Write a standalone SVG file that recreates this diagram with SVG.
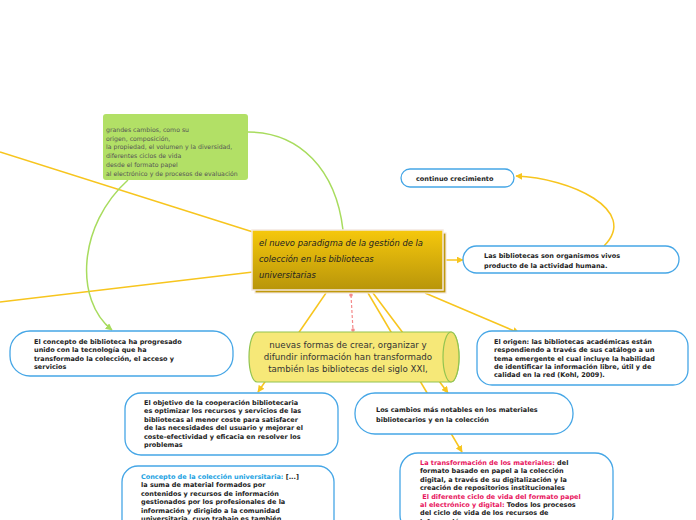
<svg xmlns="http://www.w3.org/2000/svg" width="696" height="520" viewBox="0 0 696 520">
<defs>
<linearGradient id="gold" x1="0" y1="0" x2="0" y2="1">
<stop offset="0" stop-color="#f6c80c"/>
<stop offset="1" stop-color="#b8950a"/>
</linearGradient>
<marker id="ay" viewBox="0 0 10 10" refX="9" refY="5" markerWidth="7" markerHeight="7" orient="auto" markerUnits="userSpaceOnUse">
<path d="M0,0 L10,5 L0,10 Z" fill="#f7c51e"/>
</marker>
<marker id="ag" viewBox="0 0 10 10" refX="9" refY="5" markerWidth="7" markerHeight="7" orient="auto" markerUnits="userSpaceOnUse">
<path d="M0,0 L10,5 L0,10 Z" fill="#a8dc5e"/>
</marker>
<style>
.y{fill:none;stroke:#f7c51e;stroke-width:1.5}
.g{fill:none;stroke:#a8dc5e;stroke-width:1.5}
.bn{fill:#fff;stroke:#45a6e6;stroke-width:1.3}
.bt{font-family:"DejaVu Sans",Verdana,sans-serif;font-weight:bold;font-size:6.5px;fill:#222}
.pk{fill:#e8155e}
.bl{fill:#22a2e2}
.gt{font-family:"DejaVu Sans",Verdana,sans-serif;font-size:6.2px;fill:#555}
.ct{font-family:"DejaVu Sans",sans-serif;font-style:italic;font-size:8.4px;fill:#222}
.cy{font-family:"DejaVu Sans",sans-serif;font-size:8.7px;fill:#333}
</style>
</defs>
<g id="connectors">
<path class="y" d="M0,152 L253,232"/>
<path class="y" d="M0,302 L253,272"/>
<path class="g" d="M343,230 C336,170 300,132 248,132"/>
<path class="g" d="M128,180 C78,225 74,300 112,330" marker-end="url(#ag)"/>
<path class="y" d="M443,260 L463,260" marker-end="url(#ay)"/>
<path class="y" d="M604,246 C640,210 570,178 516,176" marker-end="url(#ay)"/>
<path class="y" d="M425,293 L519,333" marker-end="url(#ay)"/>
<path class="y" d="M326,293 L258,392" marker-end="url(#ay)"/>
<path class="y" d="M368,293 L462,452" marker-end="url(#ay)"/>
<path class="y" d="M373,293 L448,393" marker-end="url(#ay)"/>
<path d="M351,295 L353,330" fill="none" stroke="#f48a8a" stroke-width="1.2" stroke-dasharray="3,2"/>
<circle cx="351" cy="295" r="1.8" fill="#f48a8a"/>
<circle cx="353" cy="330" r="1.8" fill="#f48a8a"/>
</g>
<g id="n-green">
<rect x="103" y="114" width="145" height="66" rx="3" fill="#b2e066"/>
<text class="gt"><tspan x="106" y="132">grandes cambios, como su</tspan><tspan x="106" y="140.7">origen, composición,</tspan><tspan x="106" y="149.4">la propiedad, el volumen y la diversidad,</tspan><tspan x="106" y="158.1">diferentes ciclos de vida</tspan><tspan x="106" y="166.8">desde el formato papel</tspan><tspan x="106" y="175.5">al electrónico y de procesos de evaluación</tspan></text>
</g>
<g id="n-central">
<rect x="255" y="233" width="191" height="60" fill="#c09a0c" stroke="#f4e8e0" stroke-width="1.2"/>
<rect x="252" y="230" width="191" height="60" fill="url(#gold)" stroke="#f4e8e0" stroke-width="1.5"/>
<text class="ct"><tspan x="259" y="246">el nuevo paradigma de la gestión de la</tspan><tspan x="259" y="262">colección en las bibliotecas</tspan><tspan x="259" y="278">universitarias</tspan></text>
</g>
<g id="n-continuo">
<rect class="bn" x="401" y="169" width="113" height="18" rx="9"/>
<text class="bt" x="416" y="180.5">continuo crecimiento</text>
</g>
<g id="n-vivos">
<rect class="bn" x="463" y="246" width="216" height="27" rx="13.5"/>
<text class="bt"><tspan x="484" y="258">Las bibliotecas son organismos vivos</tspan><tspan x="484" y="267.5">producto de la actividad humana.</tspan></text>
</g>
<g id="n-concepto-biblio">
<rect class="bn" x="10" y="331" width="223" height="45" rx="20"/>
<text class="bt"><tspan x="34" y="344">El concepto de biblioteca ha progresado</tspan><tspan x="34" y="352.3">unido con la tecnología que ha</tspan><tspan x="34" y="360.6">transformado la colección, el acceso y</tspan><tspan x="34" y="368.9">servicios</tspan></text>
</g>
<g id="n-nuevas">
<path d="M257,332 H451 A8,25 0 0 1 451,382 H257 A8,25 0 0 1 257,332 Z" fill="#f6e878" stroke="#92c450" stroke-width="1.2"/>
<ellipse cx="451" cy="357" rx="8" ry="25" fill="#f1e070" stroke="#92c450" stroke-width="1.2"/>
<text class="cy" text-anchor="middle"><tspan x="348" y="348">nuevas formas de crear, organizar y</tspan><tspan x="348" y="360">difundir información han transformado</tspan><tspan x="348" y="372">también las bibliotecas del siglo XXI,</tspan></text>
</g>
<g id="n-origen">
<rect class="bn" x="477" y="331" width="211" height="54" rx="15"/>
<text class="bt"><tspan x="494" y="344">El origen: las bibliotecas académicas están</tspan><tspan x="494" y="352.3">respondiendo a través de sus catálogo a un</tspan><tspan x="494" y="360.6">tema emergente el cual incluye la habilidad</tspan><tspan x="494" y="368.9">de identificar  la información libre, útil y de</tspan><tspan x="494" y="377.2">calidad en la red (Kohl, 2009).</tspan></text>
</g>
<g id="n-objetivo">
<rect class="bn" x="125" y="393" width="213" height="62" rx="16"/>
<text class="bt"><tspan x="144" y="405">El objetivo de la cooperación bibliotecaria</tspan><tspan x="144" y="413.4">es optimizar los recursos y servicios de las</tspan><tspan x="144" y="421.8">bibliotecas al menor coste  para satisfacer</tspan><tspan x="144" y="430.2">de las necesidades del usuario y mejorar el</tspan><tspan x="144" y="438.6">coste-efectividad y eficacia en resolver los</tspan><tspan x="144" y="447">problemas</tspan></text>
</g>
<g id="n-cambios">
<rect class="bn" x="355" y="393" width="218" height="41" rx="20"/>
<text class="bt"><tspan x="376" y="412">Los cambios más notables en los materiales</tspan><tspan x="376" y="421.5">bibliotecarios y en la colección</tspan></text>
</g>
<g id="n-coleccion">
<rect class="bn" x="122" y="466" width="212" height="70" rx="16"/>
<text class="bt"><tspan x="141" y="479"><tspan class="bl">Concepto de la colección universitaria:</tspan> [...]</tspan><tspan x="141" y="487.4">la suma de material formados por</tspan><tspan x="141" y="495.8">contenidos y recursos de información</tspan><tspan x="141" y="504.2">gestionados por los profesionales de la</tspan><tspan x="141" y="512.6">información y dirigido a la  comunidad</tspan><tspan x="141" y="521">universitaria, cuyo trabajo es también</tspan></text>
</g>
<g id="n-transformacion">
<rect class="bn" x="400" y="453" width="213" height="80" rx="18"/>
<text class="bt"><tspan x="420" y="465"><tspan class="pk"> La transformación de los materiales:</tspan> del</tspan><tspan x="420" y="473.4">formato basado en  papel a la colección</tspan><tspan x="420" y="481.8">digital,  a través de su digitalización y la</tspan><tspan x="420" y="490.2">creación de repositorios institucionales</tspan><tspan x="420" y="498.6" class="pk"> El diferente ciclo de vida del formato papel</tspan><tspan x="420" y="507"><tspan class="pk">al electrónico y digital:</tspan> Todos los procesos</tspan><tspan x="420" y="515.4">del ciclo de vida de los recursos de</tspan><tspan x="420" y="523.8">información</tspan></text>
</g>
</svg>
